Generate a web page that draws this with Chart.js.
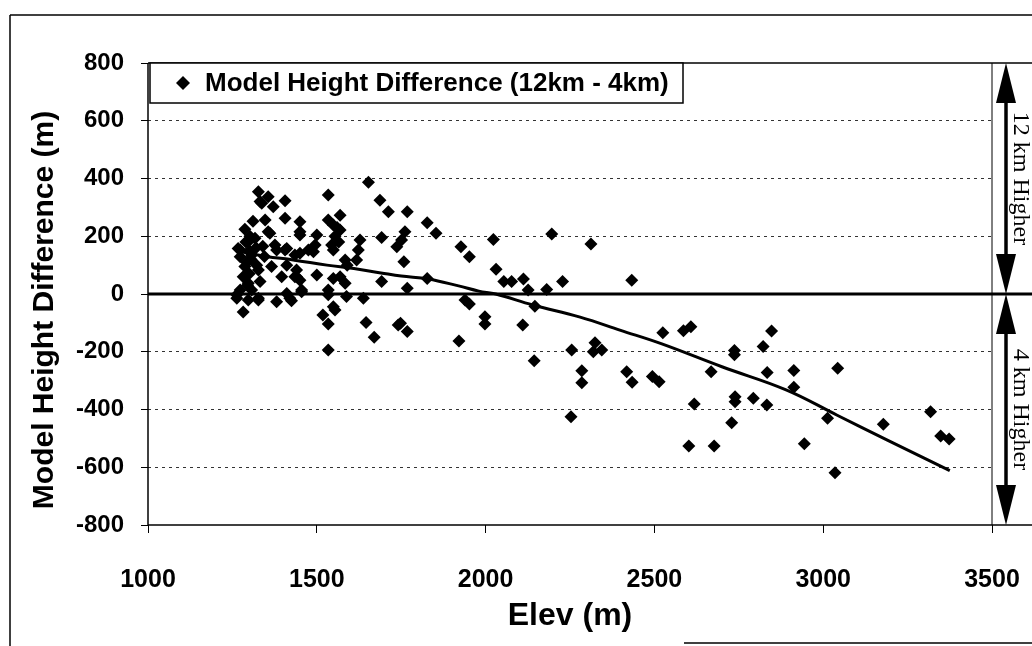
<!DOCTYPE html>
<html><head><meta charset="utf-8">
<script src="https://cdn.jsdelivr.net/npm/chart.js@4.4.0/dist/chart.umd.min.js"></script>
<style>html,body{margin:0;padding:0;background:#fff;}canvas{display:block;}</style>
</head><body>
<canvas id="c" width="1032" height="646"></canvas>
<script>
// ---- data ----
const elevX = [1263,1263,1267,1273,1273,1273,1282,1282,1287,1287,1290,1292,1295,1297,1297,1297,1300,1300,1302,1305,1307,1307,1311,1317,1320,1322,1327,1327,1327,1327,1332,1332,1337,1340,1345,
 1347,1356,1356,1361,1366,1371,1376,1381,1381,1396,1406,1406,1406,1411,1411,1411,1420,1425,1435,1435,1440,1440,1450,1450,1450,1450,1450,1455,1455,1475,1490,1495,1500,1500,1518,
 1534,1534,1534,1534,1534,1534,1544,1549,1549,1549,1549,1554,1554,1560,1565,1569,1569,1569,1584,1584,1588,1590,1618,1623,1628,1638,1646,1653,1670,1687,1692,1692,1712,1737,1741,1748,
 1751,1758,1761,1768,1768,1768,1827,1827,1853,1921,1927,1939,1952,1952,1998,1998,2023,2031,2054,2077,2110,2112,2126,2144,2146,2181,2196,2228,2253,2255,2285,2285,2312,2319,2324,2344,
 2418,2433,2434,2494,2514,2525,2586,2602,2608,2618,2668,2677,2729,2737,2737,2739,2739,2793,2822,2833,2834,2847,2913,2913,2944,3013,3035,3043,3178,3318,3348,3373];
const diffY = [-3,-15,158,129,14,152,-62,60,224,95,180,110,30,181,37,-21,150,70,200,120,135,14,252,193,160,100,354,83,-15,-21,320,43,314,165,130,
 256,337,216,210,95,302,170,152,-27,60,323,262,152,100,158,2,-15,-23,135,60,83,60,250,216,204,141,48,14,8,152,146,170,204,66,-73,
 343,256,14,-3,-104,-194,170,239,152,54,-44,-55,200,230,180,273,222,60,118,37,-9,100,118,152,187,-15,-99,387,-150,325,196,43,285,164,-107,-101,
 187,112,216,285,20,-130,247,54,210,-163,164,-21,129,-35,-79,-104,189,86,43,43,-107,52,14,-231,-42,16,208,43,-425,-194,-266,-307,173,-200,-169,-194,
 -269,48,-306,-286,-304,-134,-127,-526,-113,-381,-269,-526,-446,-196,-210,-356,-373,-361,-182,-384,-272,-128,-265,-323,-519,-430,-619,-257,-451,-408,-492,-502];
const trendX = [1280,1350,1430,1530,1610,1690,1750,1830,1920,1980,2030,2140,2280,2400,2520,2700,2890,3040,3190,3375];
const trendY = [145,130,118,100,88,73,62,52,28,10,0,-38,-80,-126,-172,-252,-332,-419,-506,-612];
const xTicks = [1000,1500,2000,2500,3000,3500];
const yTicks = [-800,-600,-400,-200,0,200,400,600,800];
const legendLabel = 'Model Height Difference (12km - 4km)';
const yTitle = 'Model Height Difference (m)';
const xTitle = 'Elev (m)';
const upperNote = '12 km Higher';
const lowerNote = '4 km Higher';

const SANS = '"Liberation Sans", Arial, sans-serif';
const SERIF = '"Liberation Serif", "Times New Roman", serif';

function arrow(ctx, x, y1, y2) {
  const hl = 40, hw = 10;
  ctx.save();
  ctx.fillStyle = '#000'; ctx.strokeStyle = '#000'; ctx.lineWidth = 3.5;
  ctx.beginPath(); ctx.moveTo(x, y1 + hl - 2); ctx.lineTo(x, y2 - hl + 2); ctx.stroke();
  ctx.beginPath(); ctx.moveTo(x, y1); ctx.lineTo(x - hw, y1 + hl); ctx.lineTo(x + hw, y1 + hl); ctx.closePath(); ctx.fill();
  ctx.beginPath(); ctx.moveTo(x, y2); ctx.lineTo(x - hw, y2 - hl); ctx.lineTo(x + hw, y2 - hl); ctx.closePath(); ctx.fill();
  ctx.restore();
}
function line(ctx, x1, y1, x2, y2, w) {
  ctx.save(); ctx.strokeStyle = '#000'; ctx.lineWidth = w; ctx.setLineDash([]);
  ctx.beginPath(); ctx.moveTo(x1, y1); ctx.lineTo(x2, y2); ctx.stroke(); ctx.restore();
}

const decor = {
  id: 'decor',
  beforeDatasetsDraw(chart) {
    const ctx = chart.ctx, a = chart.chartArea, y = chart.scales.y;
    const W = chart.width;
    line(ctx, a.left, y.getPixelForValue(0), W, y.getPixelForValue(0), 3);
    line(ctx, a.left, a.top, W, a.top, 1.5);
    line(ctx, a.left, a.bottom, W, a.bottom, 1.5);
    line(ctx, a.left, a.top, a.left, a.bottom, 1.5);
    line(ctx, a.right, a.top, a.right, a.bottom, 1);
  },
  afterDraw(chart) {
    const ctx = chart.ctx, a = chart.chartArea, y = chart.scales.y;
    const W = chart.width, H = chart.height;
    const yT = y.getPixelForValue(800), y0 = y.getPixelForValue(0), yB = y.getPixelForValue(-800);
    // outer frame
    line(ctx, 10, 15, W, 15, 1.5);
    line(ctx, 10, 15, 10, H, 1.5);
    line(ctx, 684, H - 3, W, H - 3, 1.5);
    // legend box
    ctx.save();
    ctx.fillStyle = '#fff'; ctx.strokeStyle = '#000'; ctx.lineWidth = 1.5;
    ctx.fillRect(150, a.top, 533, 40); ctx.strokeRect(150, a.top, 533, 40);
    ctx.fillStyle = '#000';
    ctx.beginPath(); ctx.moveTo(183, 76); ctx.lineTo(190, 83); ctx.lineTo(183, 90); ctx.lineTo(176, 83); ctx.closePath(); ctx.fill();
    ctx.font = 'bold 26px ' + SANS; ctx.textBaseline = 'middle'; ctx.textAlign = 'left';
    ctx.fillText(legendLabel, 205, 84);
    // y title
    ctx.save();
    ctx.translate(45, 310); ctx.rotate(-Math.PI / 2);
    ctx.font = 'bold 30px ' + SANS; ctx.textAlign = 'center'; ctx.textBaseline = 'middle';
    ctx.fillText(yTitle, 0, 0);
    ctx.restore();
    // right annotations
    arrow(ctx, 1006, yT, y0);
    arrow(ctx, 1006, y0, yB);
    ctx.font = '24px ' + SERIF; ctx.textAlign = 'center'; ctx.textBaseline = 'alphabetic';
    ctx.save(); ctx.translate(1014, (yT + y0) / 2); ctx.rotate(Math.PI / 2); ctx.fillText(upperNote, 0, 0); ctx.restore();
    ctx.save(); ctx.translate(1014, (y0 + yB) / 2); ctx.rotate(Math.PI / 2); ctx.fillText(lowerNote, 0, 0); ctx.restore();
    ctx.restore();
  }
};

new Chart(document.getElementById('c'), {
  type: 'scatter',
  data: {
    datasets: [
      {
        type: 'line',
        label: 'Trend',
        data: trendX.map((x, i) => ({ x: x, y: trendY[i] })),
        borderColor: '#000', borderWidth: 3, pointRadius: 0, tension: 0.4, fill: false, order: 1
      },
      {
        label: legendLabel,
        data: elevX.map((x, i) => ({ x: x, y: diffY[i] })),
        pointStyle: 'rectRot', pointRadius: 6.5, backgroundColor: '#000', borderColor: '#000', borderWidth: 0, order: 0
      }
    ]
  },
  options: {
    responsive: false, animation: false, events: [],
    layout: { padding: { left: 10, right: 40, top: 63, bottom: 0 } },
    plugins: { legend: { display: false }, tooltip: { enabled: false } },
    scales: {
      x: {
        type: 'linear', min: 1000, max: 3500,
        afterBuildTicks: s => { s.ticks = xTicks.map(v => ({ value: v })); },
        afterFit: s => { s.height = 121; s.paddingLeft = 0; s.paddingRight = 0; },
        ticks: { color: '#000', padding: 32, font: { family: SANS, size: 25, weight: 'bold' }, callback: v => String(v) },
        grid: { drawOnChartArea: false, drawTicks: true, tickLength: 8, tickColor: '#000', color: '#000' },
        border: { display: false },
        title: { display: true, text: xTitle, color: '#000', font: { family: SANS, size: 32, weight: 'bold' }, padding: { top: 0, bottom: 11 } }
      },
      y: {
        type: 'linear', min: -800, max: 800,
        afterBuildTicks: s => { s.ticks = yTicks.map(v => ({ value: v })); },
        afterFit: s => { s.width = 138; s.paddingTop = 0; s.paddingBottom = 0; },
        ticks: { color: '#000', padding: 17, font: { family: SANS, size: 24, weight: 'bold' }, callback: v => String(v) },
        grid: {
          color: c => (c.tick && (c.tick.value === 0 || Math.abs(c.tick.value) === 800)) ? 'rgba(0,0,0,0)' : '#333',
          lineWidth: 1, tickLength: 7, tickColor: '#000', tickBorderDash: []
        },
        border: { display: false, dash: [3, 4] }
      }
    }
  },
  plugins: [decor]
});
</script>
</body></html>
